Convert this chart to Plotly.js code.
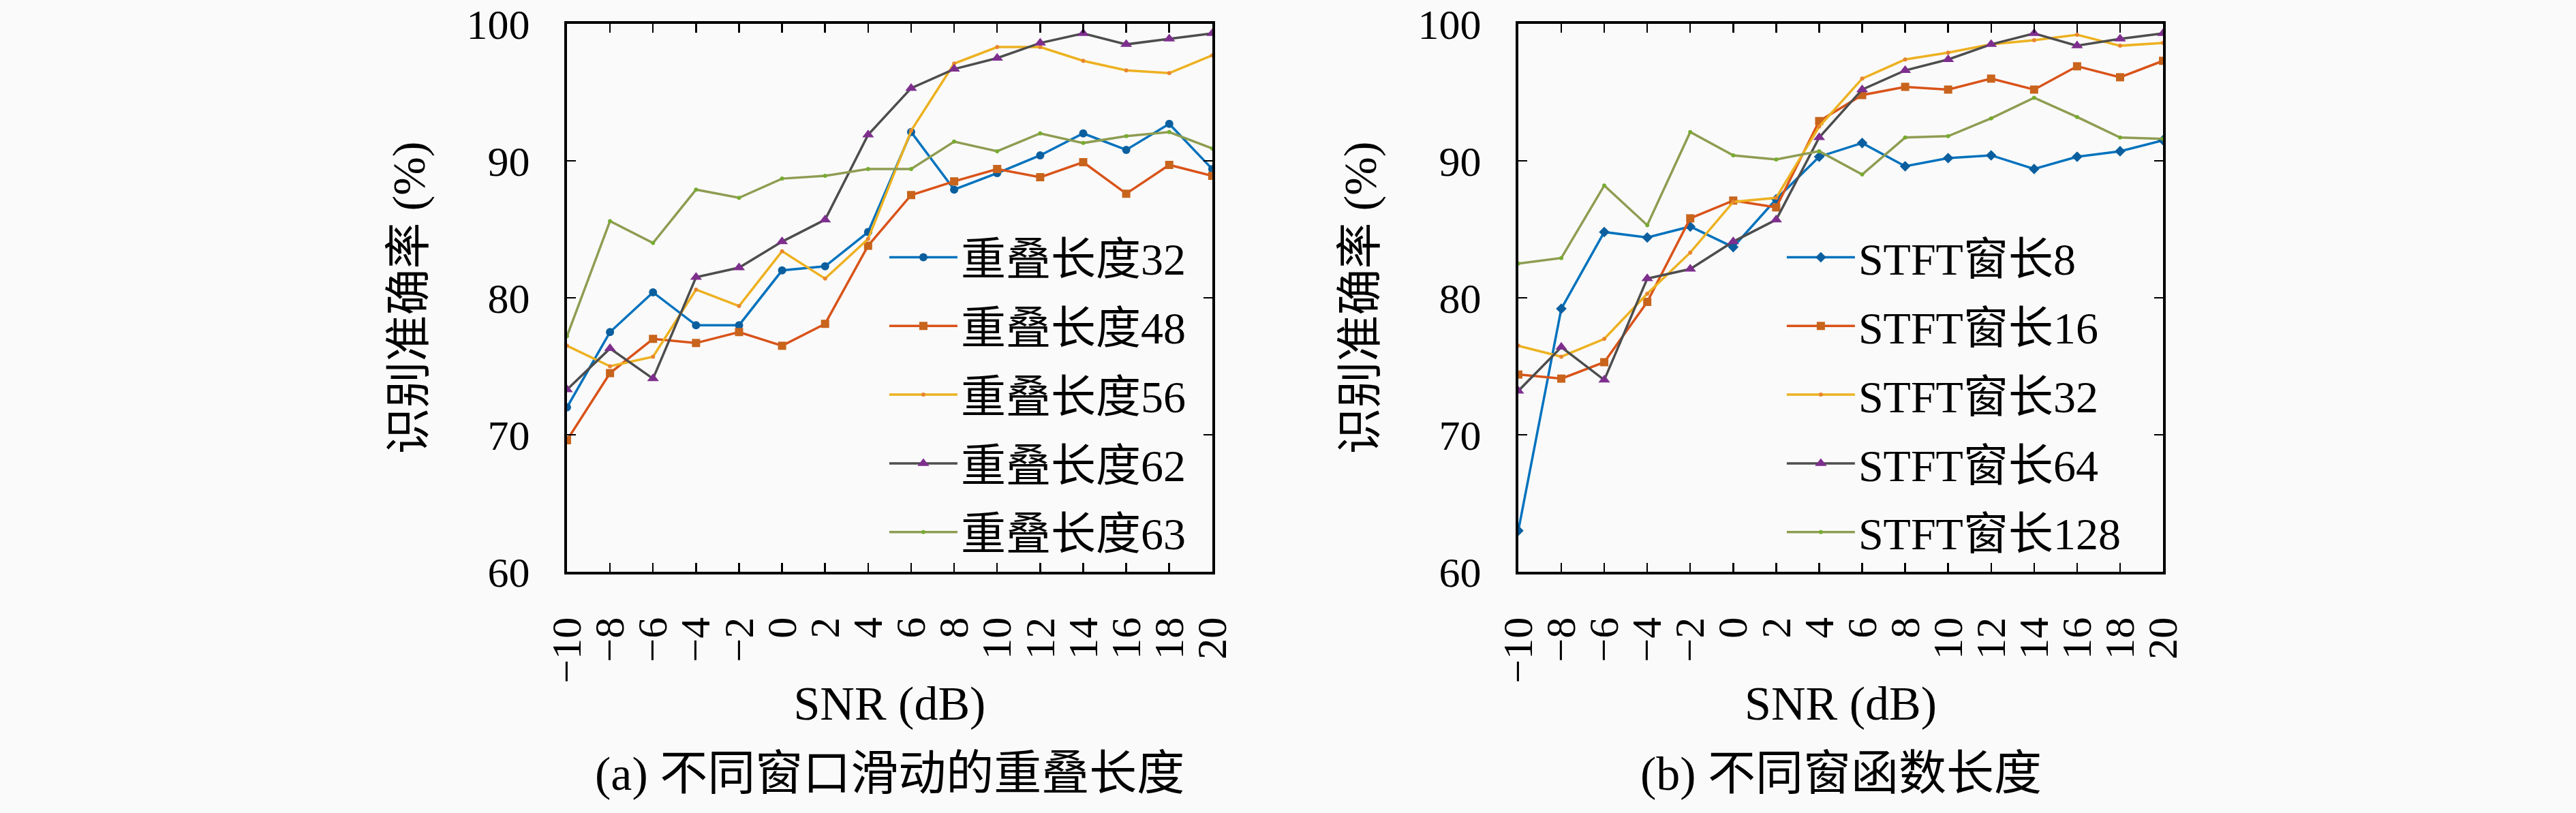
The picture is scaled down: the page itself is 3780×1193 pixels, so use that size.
<!DOCTYPE html>
<html><head><meta charset="utf-8">
<script src="https://cdn.plot.ly/plotly-3.0.1.min.js"></script>
<style>html,body{margin:0;padding:0;background:#fafafa;}#chart{width:3780px;height:1193px;}</style>
</head><body><div id="chart"></div>
<script>
const snr = [-10,-8,-6,-4,-2,0,2,4,6,8,10,12,14,16,18,20];
const snrTickText = ["−10","−8","−6","−4","−2","0","2","4","6","8","10","12","14","16","18","20"];
const yTicks = [60,70,80,90,100];

// (a) overlap lengths
const namesA = ["重叠长度32","重叠长度48","重叠长度56","重叠长度62","重叠长度63"];
const ov32 = [72.0,77.5,80.4,78.0,78.0,82.0,82.3,84.8,92.1,87.9,89.1,90.4,92.0,90.8,92.7,89.4];
const ov48 = [69.6,74.5,77.0,76.7,77.5,76.5,78.1,83.8,87.5,88.5,89.4,88.8,89.9,87.6,89.7,88.9];
const ov56 = [76.5,75.0,75.7,80.6,79.4,83.4,81.4,84.3,92.2,97.1,98.3,98.3,97.3,96.6,96.4,97.7];
const ov62 = [73.3,76.3,74.1,81.5,82.2,84.1,85.7,91.9,95.3,96.7,97.5,98.6,99.3,98.5,98.9,99.3];
const ov63 = [77.2,85.6,84.0,87.9,87.3,88.7,88.9,89.4,89.4,91.4,90.7,92.0,91.3,91.8,92.1,90.9];

// (b) window lengths
const namesB = ["STFT窗长8","STFT窗长16","STFT窗长32","STFT窗长64","STFT窗长128"];
const w8   = [63.0,79.2,84.8,84.4,85.2,83.7,87.2,90.3,91.3,89.6,90.2,90.4,89.4,90.3,90.7,91.5];
const w16  = [74.4,74.1,75.3,79.7,85.8,87.1,86.6,92.9,94.8,95.4,95.2,96.0,95.2,96.9,96.1,97.3];
const w32  = [76.5,75.7,77.0,80.3,83.3,87.0,87.3,92.5,96.0,97.4,97.9,98.5,98.8,99.2,98.4,98.6];
const w64  = [73.2,76.4,74.0,81.4,82.1,84.1,85.7,91.7,95.2,96.6,97.4,98.5,99.3,98.4,98.9,99.3];
const w128 = [82.5,82.9,88.2,85.3,92.1,90.4,90.1,90.7,89.0,91.7,91.8,93.1,94.6,93.2,91.7,91.6];

const styles = [
  {line:"#0072BD", mk:"#0b5f9e", sym:"circle", size:12},
  {line:"#D95319", mk:"#C8641C", sym:"square", size:12},
  {line:"#EDB120", mk:"#E8862F", sym:"circle", size:6},
  {line:"#4d4d4d", mk:"#7E2F8E", sym:"triangle-up", size:15},
  {line:"#8E9D52", mk:"#77AC30", sym:"circle", size:6}
];
const symsB = ["diamond","square","circle","triangle-up","circle"];

const serif = "Liberation Serif, 'Noto Sans CJK SC', serif";
const traces = [];
[ov32,ov48,ov56,ov62,ov63].forEach((ys,i)=>{
  const s = styles[i];
  traces.push({x:snr, y:ys, name:namesA[i], type:"scatter", mode:"lines+markers",
    xaxis:"x", yaxis:"y", legend:"legend", legendgroup:"a"+i,
    line:{color:s.line, width:3.5}, marker:{color:s.mk, symbol:s.sym, size:s.size}});
});
[w8,w16,w32,w64,w128].forEach((ys,i)=>{
  const s = styles[i];
  traces.push({x:snr, y:ys, name:namesB[i], type:"scatter", mode:"lines+markers",
    xaxis:"x2", yaxis:"y2", legend:"legend2", legendgroup:"b"+i,
    line:{color:s.line, width:3.5}, marker:{color:s.mk, symbol:symsB[i], size:s.size}});
});

function xax(domain, anchor){
  return {domain:domain, anchor:anchor, range:[-10,20], tickvals:snr, ticktext:snrTickText,
    tickangle:-90, ticks:"inside", ticklen:13, tickwidth:2.5, tickcolor:"#000",
    showline:true, linewidth:4, linecolor:"#000", mirror:"ticks", showgrid:false, zeroline:false,
    tickfont:{family:serif, size:62, color:"#000"}, ticklabelstandoff:38,
    title:{text:"SNR (dB)", font:{family:serif, size:70, color:"#000"}, standoff:6}};
}
function yax(anchor){
  return {domain:[0.2967,0.9707], anchor:anchor, range:[60,100], tickvals:yTicks,
    ticks:"inside", ticklen:13, tickwidth:2.5, tickcolor:"#000",
    showline:true, linewidth:4, linecolor:"#000", mirror:"ticks", showgrid:false, zeroline:false,
    tickfont:{family:serif, size:62, color:"#000"}, ticklabelstandoff:38,
    title:{text:"识别准确率 (%)\u00a0\u00a0\u00a0", font:{family:serif, size:68, color:"#000"}, standoff:40}};
}
function leg(x){
  return {x:x, xanchor:"left", y:0.725, yanchor:"top", bgcolor:"rgba(0,0,0,0)",
    borderwidth:0, tracegroupgap:12, itemwidth:100,
    font:{family:serif, size:66, color:"#000"}};
}

const layout = {
  width:3780, height:1193, margin:{l:0,r:0,t:0,b:0},
  paper_bgcolor:"#fafafa", plot_bgcolor:"#fafafa", showlegend:true,
  xaxis:xax([0.2201,0.4706],"y"), yaxis:yax("x"),
  xaxis2:xax([0.5894,0.8397],"y2"), yaxis2:yax("x2"),
  legend:leg(0.3439), legend2:leg(0.6923),
  annotations:[
    {text:"(a) 不同窗口滑动的重叠长度", xref:"paper", yref:"paper", x:0.3453, y:0.048,
     xanchor:"center", yanchor:"middle", showarrow:false, font:{family:serif, size:70, color:"#000"}},
    {text:"(b) 不同窗函数长度", xref:"paper", yref:"paper", x:0.7146, y:0.048,
     xanchor:"center", yanchor:"middle", showarrow:false, font:{family:serif, size:70, color:"#000"}}
  ]
};
Plotly.newPlot("chart", traces, layout, {staticPlot:true});
</script></body></html>
